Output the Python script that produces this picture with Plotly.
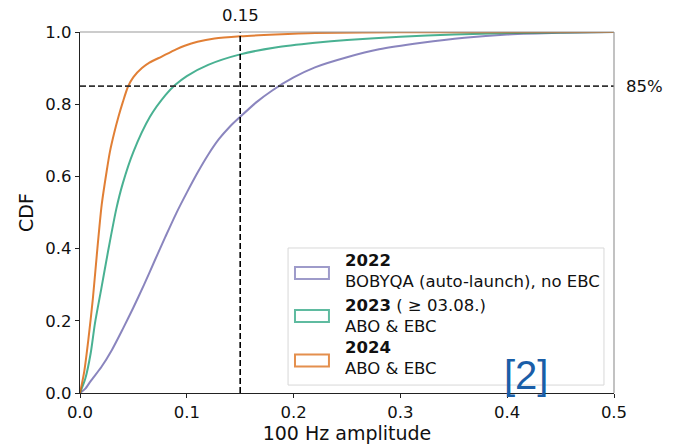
import plotly.graph_objects as go

# ---- data ----
x_2022 = [0, 0.005, 0.01, 0.02, 0.03, 0.04, 0.05, 0.06, 0.07, 0.08, 0.09, 0.10, 0.11, 0.12,
          0.13, 0.14, 0.15, 0.165, 0.18, 0.20, 0.22, 0.25, 0.28, 0.32, 0.36, 0.40, 0.45, 0.5]
y_2022 = [0, 0.012, 0.033, 0.072, 0.12, 0.177, 0.237, 0.30, 0.367, 0.433, 0.497, 0.555, 0.61, 0.66,
          0.703, 0.737, 0.765, 0.805, 0.838, 0.874, 0.902, 0.930, 0.952, 0.970, 0.984, 0.993, 0.998, 1.0]

x_2023 = [0, 0.005, 0.01, 0.014, 0.02, 0.0265, 0.034, 0.04, 0.05, 0.0655, 0.08, 0.089, 0.10,
          0.12, 0.15, 0.183, 0.22, 0.25, 0.30, 0.35, 0.40, 0.5]
y_2023 = [0, 0.04, 0.11, 0.193, 0.29, 0.396, 0.51, 0.58, 0.668, 0.765, 0.825, 0.853, 0.878,
          0.909, 0.938, 0.957, 0.970, 0.978, 0.987, 0.993, 0.997, 1.0]

x_2024 = [0, 0.004, 0.0078, 0.012, 0.0156, 0.0203, 0.025, 0.028, 0.032, 0.036, 0.040,
          0.045, 0.050, 0.058, 0.065, 0.0765, 0.09, 0.098, 0.11, 0.126, 0.150, 0.183, 0.22, 0.3, 0.5]
y_2024 = [0, 0.06, 0.147, 0.26, 0.378, 0.521, 0.615, 0.668, 0.72, 0.765, 0.805,
          0.849, 0.875, 0.900, 0.915, 0.932, 0.952, 0.962, 0.973, 0.982, 0.988, 0.993, 0.997, 0.999, 1.0]

series_names = ["<b>2022</b><br>BOBYQA (auto-launch), no EBC",
                "<b>2023</b> ( ≥ 03.08.)<br>ABO & EBC",
                "<b>2024</b><br>ABO & EBC"]
threshold_x = 0.15
threshold_y = 0.85
x_ticks = [0.0, 0.1, 0.2, 0.3, 0.4, 0.5]
y_ticks = [0.0, 0.2, 0.4, 0.6, 0.8, 1.0]

colors = ["rgba(117,112,179,0.85)", "rgba(27,158,119,0.8)", "rgba(217,95,2,0.8)"]
legend_colors = ["rgba(117,112,179,0.7)", "rgba(27,158,119,0.7)", "rgba(217,95,2,0.7)"]

FONT = "DejaVu Sans"

fig = go.Figure()
for xs, ys, c in zip([x_2022, x_2023, x_2024], [y_2022, y_2023, y_2024], colors):
    fig.add_trace(go.Scatter(x=xs, y=ys, mode="lines",
                             line=dict(color=c, width=2, shape="spline", smoothing=0.7),
                             showlegend=False, hoverinfo="skip"))

shapes = []
# reference dashed lines
shapes.append(dict(type="line", xref="x", yref="y", x0=0, x1=0.5, y0=threshold_y, y1=threshold_y,
                   line=dict(color="#333333", width=1.6, dash="6px,3px")))
shapes.append(dict(type="line", xref="x", yref="y", x0=threshold_x, x1=threshold_x, y0=0, y1=1,
                   line=dict(color="black", width=1.6, dash="6px,3px")))
# top and right spines
shapes.append(dict(type="line", xref="paper", yref="paper", x0=0, x1=1, y0=1, y1=1,
                   line=dict(color="#999999", width=1.2)))
shapes.append(dict(type="line", xref="paper", yref="paper", x0=1, x1=1, y0=0, y1=1,
                   line=dict(color="#999999", width=1.2)))

# manual legend box
shapes.append(dict(type="rect", xref="x", yref="y", x0=0.1948, x1=0.4906, y0=0.022, y1=0.4017,
                   line=dict(color="#d8d8d8", width=1), fillcolor="rgba(255,255,255,0.8)"))
patch_y = [0.3324, 0.2133, 0.090]
text_y = [0.338, 0.213, 0.097]
annotations = []
for py, ty, lc, name in zip(patch_y, text_y, legend_colors, series_names):
    shapes.append(dict(type="rect", xref="x", yref="y", x0=0.2013, x1=0.2331,
                       y0=py - 0.0166, y1=py + 0.0166, line=dict(color=lc, width=2),
                       fillcolor="rgba(0,0,0,0)"))
    annotations.append(dict(x=0.2463, y=ty, xref="x", yref="y", text=name, showarrow=False,
                            xanchor="left", yanchor="middle", align="left",
                            font=dict(family=FONT, size=16.5, color="#111111")))

annotations.append(dict(x=threshold_x, y=1.0457, xref="x", yref="paper", text="0.15",
                        showarrow=False, xanchor="center", yanchor="middle",
                        font=dict(family=FONT, size=16.5, color="#111111")))
annotations.append(dict(x=1.0187, y=threshold_y, xref="paper", yref="y", text="85%",
                        showarrow=False, xanchor="left", yanchor="middle",
                        font=dict(family=FONT, size=16.5, color="#111111")))
annotations.append(dict(x=(526 - 80) / 534, y=(393 - 374.5) / 361, xref="paper", yref="paper",
                        text="[2]", showarrow=False, xanchor="center", yanchor="middle",
                        font=dict(family="Liberation Sans", size=40, color="#1a5ea8")))

fig.update_layout(
    width=677, height=445,
    margin=dict(l=80, r=63, t=32, b=52, autoexpand=False),
    paper_bgcolor="white", plot_bgcolor="white",
    shapes=shapes, annotations=annotations,
    font=dict(family=FONT, color="#111111"),
)
fig.update_xaxes(range=[0, 0.5], tickvals=x_ticks, ticktext=[f"{v:.1f}" for v in x_ticks],
                 automargin=False,
                 showgrid=False, zeroline=False, showline=True, linecolor="#222222", linewidth=1.2,
                 ticks="outside", ticklen=4, tickcolor="#222222",
                 tickfont=dict(family=FONT, size=16.5, color="#111111"),
                 title=dict(text="100 Hz amplitude", font=dict(family=FONT, size=19, color="#111111"),
                            standoff=4))
fig.update_yaxes(range=[0, 1], tickvals=y_ticks, ticktext=[f"{v:.1f}" for v in y_ticks],
                 automargin=False,
                 showgrid=False, zeroline=False, showline=True, linecolor="#222222", linewidth=1.2,
                 ticks="outside", ticklen=4, tickcolor="#222222",
                 tickfont=dict(family=FONT, size=16.5, color="#111111"),
                 title=dict(text="CDF", font=dict(family=FONT, size=19, color="#111111"), standoff=6))

fig.write_html("out.html", config={"displayModeBar": False},
               post_script="document.body.style.margin='0';document.body.style.overflow='hidden';")
